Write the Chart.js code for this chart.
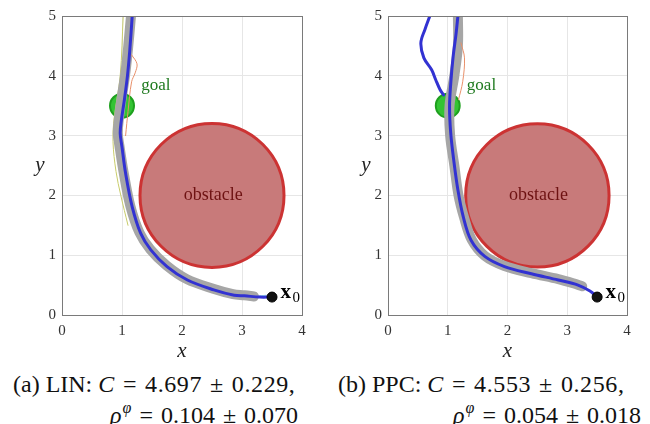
<!DOCTYPE html>
<html>
<head>
<meta charset="utf-8">
<script src="https://cdn.jsdelivr.net/npm/chart.js@4.4.1/dist/chart.umd.min.js"></script>
<style>
  body { margin: 0; background: #fff; width: 650px; height: 424px; overflow: hidden; position: relative; font-family: "Liberation Serif", serif; }
  .pane { position: absolute; top: 0; width: 325px; height: 362px; }
  .cap { position: absolute; font-size: 24px; color: #111; white-space: nowrap; line-height: 1; }
  .cap i { font-style: italic; }
  .cap .op { margin: 0 8px; }
  .cap .m { letter-spacing: 0.6px; }
  .cap sup { font-size: 16px; vertical-align: 10px; margin-left: 1px; }
</style>
</head>
<body>
<div class="pane" style="left:0"><canvas id="g1" width="325" height="362"></canvas></div>
<div class="pane" style="left:325px"><canvas id="g2" width="325" height="362"></canvas></div>
<div class="cap" style="left:13px;top:372px">(a) LIN: <span class="m"><i>C</i><span class="op">=</span>4.697<span class="op">±</span>0.229,</span></div>
<div class="cap" style="left:110px;top:400px"><i>ρ</i><sup><i>φ</i></sup><span class="op">=</span>0.104<span class="op">±</span>0.070</div>
<div class="cap" style="left:338px;top:372px">(b) PPC: <span class="m"><i>C</i><span class="op">=</span>4.553<span class="op">±</span>0.256,</span></div>
<div class="cap" style="left:453px;top:400px"><i>ρ</i><sup><i>φ</i></sup><span class="op">=</span>0.054<span class="op">±</span>0.018</div>
<script>
// axes
const xTicks = [0, 1, 2, 3, 4]
const yTicks = [0, 1, 2, 3, 4, 5]

// scene: [x, y, radius]
const obstacle = [2.5, 2.0, 1.2]
const goal = [1.0, 3.5, 0.2]
const start = [3.5, 0.3]

// (a) LIN trajectories
const linMeanX = [3.48, 3.30, 3.04, 2.87, 2.53, 2.09, 1.75, 1.48, 1.31, 1.17, 1.06, 1.00, 0.97, 0.99, 1.04, 1.09, 1.13, 1.17]
const linMeanY = [0.30, 0.30, 0.32, 0.33, 0.42, 0.585, 0.81, 1.09, 1.37, 1.81, 2.37, 2.81, 3.04, 3.26, 3.60, 3.99, 4.43, 5.00]
const linBandX = [3.20, 3.04, 2.85, 2.52, 2.08, 1.74, 1.47, 1.29, 1.14, 1.03, 0.96, 0.93, 0.95, 0.99, 1.05, 1.10, 1.15]
const linBandY = [0.31, 0.33, 0.35, 0.44, 0.60, 0.83, 1.10, 1.38, 1.82, 2.37, 2.81, 3.04, 3.30, 3.60, 4.00, 4.45, 5.00]
const linOrangeX = [1.16, 1.25, 1.22, 1.16, 1.10, 1.06]
const linOrangeY = [4.35, 4.20, 4.05, 3.90, 3.40, 3.00]
const linYellowX = [1.02, 0.97, 0.87, 0.85, 0.90, 0.98, 1.10]
const linYellowY = [5.00, 4.00, 3.30, 2.90, 2.40, 2.00, 1.50]
const linCyanX = [3.40, 3.10, 2.80]
const linCyanY = [0.33, 0.31, 0.36]

// (b) PPC trajectories
const ppcMeanX = [3.50, 3.38, 3.18, 2.85, 2.40, 1.95, 1.62, 1.39, 1.26, 1.17, 1.10, 1.05, 1.03, 1.05, 1.09, 1.14, 1.17]
const ppcMeanY = [0.30, 0.40, 0.50, 0.585, 0.69, 0.81, 0.98, 1.25, 1.64, 2.09, 2.59, 3.04, 3.48, 3.87, 4.32, 4.71, 5.00]
const ppcBranchX = [0.93, 0.87, 0.80, 0.73, 0.60, 0.55, 0.62, 0.70]
const ppcBranchY = [3.68, 3.77, 3.93, 4.10, 4.30, 4.55, 4.78, 5.00]
const ppcBandX = [3.25, 3.10, 2.85, 2.40, 1.95, 1.62, 1.40, 1.27, 1.18, 1.11, 1.04, 1.03, 1.11, 1.17, 1.17]
const ppcBandY = [0.48, 0.53, 0.60, 0.70, 0.82, 0.99, 1.26, 1.64, 2.00, 2.50, 3.00, 3.50, 4.00, 4.50, 5.00]
const ppcOrangeX = [1.22, 1.28, 1.25, 1.18]
const ppcOrangeY = [4.55, 4.30, 3.90, 3.60]
const ppcPurpleX = [1.10, 1.15, 1.16]
const ppcPurpleY = [3.00, 2.60, 2.30]

const serif = '"Liberation Serif"'

function pts(xs, ys) {
  return xs.map((x, i) => ({ x: x, y: ys[i] }))
}

// radius in data units -> pixels, through the x scale
function dataRadius(r) {
  return (c) => {
    const s = c.chart.scales.x
    return Math.abs(s.getPixelForValue(r) - s.getPixelForValue(0))
  }
}

function trace(xs, ys, color, width, order) {
  return {
    data: pts(xs, ys), showLine: true, borderColor: color, borderWidth: width,
    pointRadius: 0, tension: 0.35, order: order, borderCapStyle: 'round', borderJoinStyle: 'round'
  }
}

const decor = {
  id: 'decor',
  afterDatasetsDraw(chart) {
    const ctx = chart.ctx
    const sx = chart.scales.x, sy = chart.scales.y
    const a = chart.chartArea
    ctx.save()
    // box
    ctx.strokeStyle = '#7a7a7a'
    ctx.lineWidth = 1
    ctx.strokeRect(a.left + 0.5, a.top + 0.5, a.right - a.left, a.bottom - a.top)

    ctx.textBaseline = 'middle'
    ctx.fillStyle = '#1f7a1f'
    ctx.font = '17px ' + serif
    ctx.textAlign = 'left'
    ctx.fillText('goal', sx.getPixelForValue(1.32), sy.getPixelForValue(3.83))

    ctx.fillStyle = '#6e1212'
    ctx.font = '18px ' + serif
    ctx.textAlign = 'center'
    ctx.fillText('obstacle', sx.getPixelForValue(2.52), sy.getPixelForValue(2.0))

    ctx.fillStyle = '#000'
    ctx.textAlign = 'left'
    ctx.font = 'bold 21px ' + serif
    ctx.fillText('x', sx.getPixelForValue(3.64), sy.getPixelForValue(0.38))
    ctx.font = '15px ' + serif
    ctx.fillText('0', sx.getPixelForValue(3.84), sy.getPixelForValue(0.29))

    // axis titles
    ctx.fillStyle = '#222'
    ctx.font = 'italic 21px ' + serif
    ctx.textAlign = 'center'
    ctx.fillText('y', a.left - 22, (a.top + a.bottom) / 2)
    ctx.fillText('x', (a.left + a.right) / 2, a.bottom + 36)
    ctx.restore()
  }
}

function makeChart(id, yWidth, lines) {
  const datasets = [
    {
      data: [{ x: start[0], y: start[1] }], pointRadius: 5, pointBackgroundColor: '#111',
      pointBorderColor: '#000', pointBorderWidth: 1, order: 1
    },
    ...lines,
    {
      data: [{ x: goal[0], y: goal[1] }], pointRadius: dataRadius(goal[2]),
      pointBackgroundColor: '#33c433', pointBorderColor: '#1ea01e', pointBorderWidth: 2, order: 8
    },
    {
      data: [{ x: obstacle[0], y: obstacle[1] }], pointRadius: dataRadius(obstacle[2]),
      pointBackgroundColor: 'rgb(200,122,122)', pointBorderColor: '#cc3333', pointBorderWidth: 3, order: 9
    }
  ]
  return new Chart(document.getElementById(id), {
    type: 'scatter',
    data: { datasets: datasets },
    options: {
      responsive: false,
      animation: false,
      layout: { padding: { top: 16, right: 23, left: 0, bottom: 0 } },
      plugins: { legend: { display: false }, tooltip: { enabled: false } },
      scales: {
        x: {
          type: 'linear', min: 0, max: 4,
          afterBuildTicks: (s) => { s.ticks = xTicks.map(v => ({ value: v })) },
          afterFit: (s) => { s.height = 47 },
          grid: { color: '#e6e6e6', drawTicks: false },
          border: { color: '#7a7a7a' },
          ticks: { padding: 7, color: '#333', font: { family: 'Liberation Serif', size: 15 } }
        },
        y: {
          type: 'linear', min: 0, max: 5,
          afterBuildTicks: (s) => { s.ticks = yTicks.map(v => ({ value: v })) },
          afterFit: (s) => { s.width = yWidth },
          grid: { color: '#e6e6e6', drawTicks: false },
          border: { color: '#7a7a7a' },
          ticks: { padding: 6, color: '#333', font: { family: 'Liberation Serif', size: 15 } }
        }
      }
    },
    plugins: [decor]
  })
}

function draw() {
  makeChart('g1', 62, [
    trace(linMeanX, linMeanY, '#3232d2', 3, 2),
    trace(linOrangeX, linOrangeY, '#e8906a', 1, 3),
    trace(linCyanX, linCyanY, '#8fd8ea', 1, 5),
    trace(linYellowX, linYellowY, '#c8cc6a', 1, 6),
    trace(linBandX, linBandY, '#a6a6a6', 10, 4)
  ])

  makeChart('g2', 63, [
    trace(ppcMeanX, ppcMeanY, '#3232d2', 3, 2),
    trace(ppcBranchX, ppcBranchY, '#3232d2', 3, 2),
    trace(ppcOrangeX, ppcOrangeY, '#e8906a', 1, 3),
    trace(ppcPurpleX, ppcPurpleY, '#a080c0', 1, 5),
    trace(ppcBandX, ppcBandY, '#a6a6a6', 10, 4)
  ])
}

Promise.all([
  document.fonts.load('15px "Liberation Serif"'),
  document.fonts.load('italic 21px "Liberation Serif"'),
  document.fonts.load('bold 21px "Liberation Serif"')
]).then(draw, draw)
</script>
</body>
</html>
